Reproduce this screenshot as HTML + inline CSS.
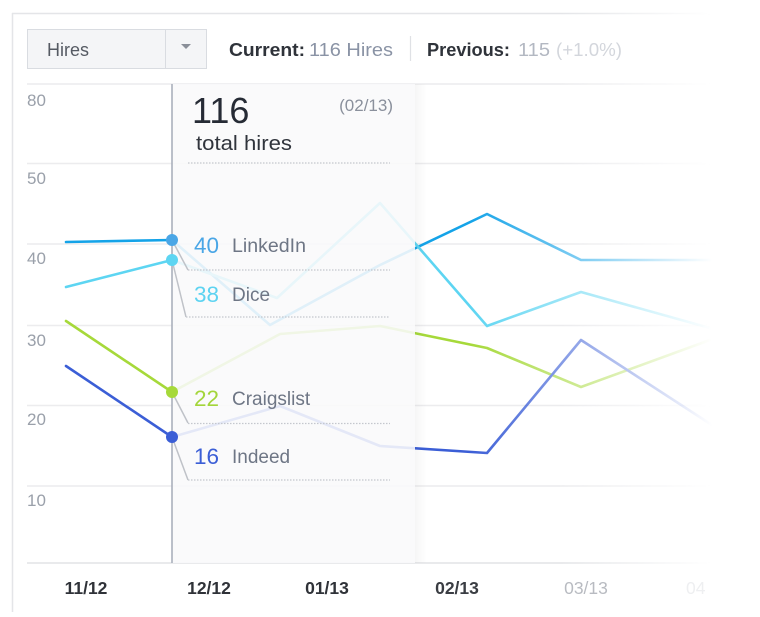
<!DOCTYPE html>
<html><head><meta charset="utf-8"><style>
html,body{margin:0;padding:0;background:#fff;}
body{width:760px;height:612px;overflow:hidden;font-family:"Liberation Sans",sans-serif;}
</style></head><body>
<svg width="760" height="612" viewBox="0 0 760 612" xmlns="http://www.w3.org/2000/svg" font-family="Liberation Sans, sans-serif">
<defs>
<mask id="lineMask" maskUnits="userSpaceOnUse" x="0" y="0" width="760" height="612">
<rect x="0" y="0" width="760" height="612" fill="black"/>
<rect x="0" y="0" width="470" height="612" fill="white"/>
<linearGradient id="mg" gradientUnits="userSpaceOnUse" x1="470" x2="712" y1="0" y2="0">
<stop offset="0" stop-color="#fff"/><stop offset="1" stop-color="#000"/>
</linearGradient>
<rect x="470" y="0" width="250" height="612" fill="url(#mg)"/>
</mask>
<mask id="gridMask" maskUnits="userSpaceOnUse" x="0" y="0" width="760" height="612">
<linearGradient id="gg" gradientUnits="userSpaceOnUse" x1="560" x2="710" y1="0" y2="0">
<stop offset="0" stop-color="#fff"/><stop offset="1" stop-color="#000"/>
</linearGradient>
<rect x="0" y="0" width="560" height="612" fill="white"/>
<rect x="560" y="0" width="160" height="612" fill="url(#gg)"/>
</mask>
<linearGradient id="shadow" x1="0" x2="1" y1="0" y2="0">
<stop offset="0" stop-color="#000" stop-opacity="0.035"/>
<stop offset="1" stop-color="#000" stop-opacity="0"/>
</linearGradient>
</defs>

<!-- card borders -->
<g mask="url(#gridMask)">
<line x1="12" y1="13.5" x2="740" y2="13.5" stroke="#e4e5e8" stroke-width="1.5"/>
</g>
<line x1="12.5" y1="13" x2="12.5" y2="612" stroke="#e4e5e8" stroke-width="1.5"/>

<!-- dropdown -->
<rect x="27.5" y="29.5" width="179" height="39" fill="#f4f5f7" stroke="#d9dce1"/>
<line x1="165.5" y1="30" x2="165.5" y2="69" stroke="#d9dce1"/>
<path d="M181 44 L191 44 L186 49 Z" fill="#8a8f99"/>
<text x="47" y="56" font-size="18" fill="#555a63" textLength="42" lengthAdjust="spacingAndGlyphs">Hires</text>

<text x="229" y="56" font-size="18" fill="#2f333a" font-weight="bold" textLength="76" lengthAdjust="spacingAndGlyphs">Current:</text>
<text x="309" y="56" font-size="18" fill="#8a93a5" textLength="84" lengthAdjust="spacingAndGlyphs">116 Hires</text>
<line x1="410.5" y1="36" x2="410.5" y2="61" stroke="#dfe1e5" stroke-width="1.2"/>
<text x="427" y="56" font-size="18" fill="#2f333a" font-weight="bold" textLength="83" lengthAdjust="spacingAndGlyphs">Previous:</text>
<text x="518" y="56" font-size="18" fill="#b3b8c2" textLength="32" lengthAdjust="spacingAndGlyphs">115</text>
<text x="556" y="56" font-size="18" fill="#d3d6dc" textLength="66" lengthAdjust="spacingAndGlyphs">(+1.0%)</text>

<!-- gridlines -->
<g mask="url(#gridMask)" stroke="#ececee" stroke-width="1.5">
<line x1="27" y1="84" x2="720" y2="84"/>
<line x1="27" y1="163.5" x2="720" y2="163.5"/>
<line x1="27" y1="244" x2="720" y2="244"/>
<line x1="27" y1="325.5" x2="720" y2="325.5"/>
<line x1="27" y1="405.5" x2="720" y2="405.5"/>
<line x1="27" y1="486" x2="720" y2="486"/>
<line x1="27" y1="563" x2="720" y2="563" stroke="#e2e3e6"/>
</g>

<!-- y labels -->
<g font-size="17" fill="#9aa0aa">
<text x="27" y="106">80</text>
<text x="27" y="184">50</text>
<text x="27" y="264">40</text>
<text x="27" y="346">30</text>
<text x="27" y="425">20</text>
<text x="27" y="506">10</text>
</g>

<!-- series -->
<g mask="url(#lineMask)" fill="none" stroke-width="2.6" stroke-linejoin="round" stroke-linecap="round">
<polyline stroke="#14a3e8" points="66,242 172,240 270,325 380,265 487,214 581,260 720,260"/>
<polyline stroke="#5dd5f2" points="66,287 172,260 277,298 380,203 487,326 581,292 710,328"/>
<polyline stroke="#a6d93a" points="66,321 172,392 280,334 380,326 487,348 581,387 710,340"/>
<polyline stroke="#3b5ed6" points="66,366 172,437 280,406 380,446 487,453 581,340 712,425"/>
</g>

<!-- tooltip panel -->
<rect x="415" y="84" width="12" height="479" fill="url(#shadow)"/>
<rect x="172" y="84" width="243" height="479" fill="#f9f9fa" fill-opacity="0.89"/>
<line x1="172" y1="84" x2="172" y2="563" stroke="#aab0bc" stroke-width="1.6"/>

<text x="192" y="123" font-size="36" fill="#262b35">116</text>
<text x="393" y="111" font-size="17" fill="#8a909c" text-anchor="end">(02/13)</text>
<text x="196" y="150" font-size="20.5" fill="#30343c" textLength="96" lengthAdjust="spacingAndGlyphs">total hires</text>
<line x1="188" y1="163" x2="390" y2="163" stroke="#c4c7cd" stroke-width="1.2" stroke-dasharray="1.5,1.5"/>

<g stroke="#bfc2c8" stroke-width="1.5" fill="none">
<polyline points="172,240 188,270"/>
<polyline points="172,260 186,317"/>
<polyline points="172,392 188,423"/>
<polyline points="172,437 188,480"/>
</g>
<g stroke="#c4c7cd" stroke-width="1.2" stroke-dasharray="1.5,1.5">
<line x1="188" y1="270" x2="390" y2="270"/>
<line x1="186" y1="317" x2="390" y2="317"/>
<line x1="188" y1="423.5" x2="390" y2="423.5"/>
<line x1="188" y1="480" x2="390" y2="480"/>
</g>

<g font-size="22.5">
<text x="194" y="253" fill="#4aa6e6">40</text>
<text x="194" y="302" fill="#5dd3f1">38</text>
<text x="194" y="406" fill="#a3d53a">22</text>
<text x="194" y="464" fill="#3b5ed6">16</text>
</g>
<g font-size="19" fill="#6e7685">
<text x="232" y="252" textLength="74" lengthAdjust="spacingAndGlyphs">LinkedIn</text>
<text x="232" y="301">Dice</text>
<text x="232" y="405">Craigslist</text>
<text x="232" y="463">Indeed</text>
</g>

<circle cx="172" cy="240" r="6" fill="#4aa6e6"/>
<circle cx="172" cy="260" r="6" fill="#5dd5f2"/>
<circle cx="172" cy="392" r="6" fill="#a6d93a"/>
<circle cx="172" cy="437" r="6" fill="#3b5ed6"/>

<!-- x labels -->
<g font-size="17.5" font-weight="bold" text-anchor="middle">
<text x="86" y="594" fill="#2f3238">11/12</text>
<text x="209" y="594" fill="#2f3238">12/12</text>
<text x="327" y="594" fill="#2f3238">01/13</text>
<text x="457" y="594" fill="#3a3d43">02/13</text>
<text x="586" y="594" fill="#b8bbc1" font-weight="normal">03/13</text>
<text x="686" y="594" fill="#eeeff1" font-weight="normal" text-anchor="start">04</text>
</g>
</svg>
</body></html>
